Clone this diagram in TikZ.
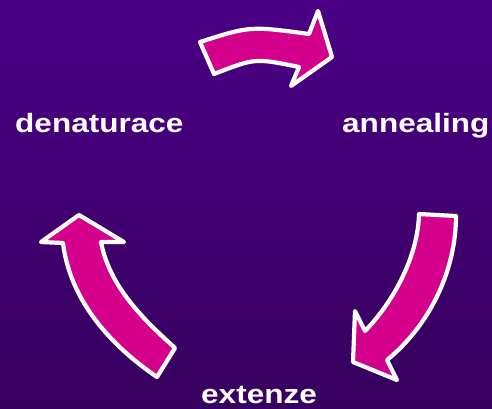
\documentclass[tikz,border=0pt]{standalone}
\usepackage{fontspec}
\setmainfont{Liberation Sans}
\usepackage{graphicx}
\definecolor{bgtop}{HTML}{4B0085}
\definecolor{bgbottom}{HTML}{37005F}
\definecolor{pcrpink}{HTML}{D4008C}
\tikzset{
  cyclearrow/.style={fill=pcrpink, draw=white, line width=4.2pt, line join=round},
  steplabel/.style={text=white, inner sep=0pt, font=\fontsize{26.5}{30}\selectfont\bfseries}
}
\begin{document}
\begin{tikzpicture}[x=1pt,y=-1pt]
            % background
            \shade[top color=bgtop, bottom color=bgbottom] (0,0) rectangle (492,408);
            \useasboundingbox (0,0) rectangle (492,408);

            % labels
            \node[steplabel, anchor=base west] (denat) at (15,132) {\scalebox{1.19}[1]{denaturace}};
            \node[steplabel, anchor=base west] (anneal) at (342,132) {\scalebox{1.19}[1]{annealing}};
            \node[steplabel, anchor=base west] (ext) at (201,403) {\scalebox{1.19}[1]{extenze}};

            % arrow denaturace -> annealing
            \draw[cyclearrow] (200,42) .. controls (250,26) .. (309,34) -- (318,11) -- (332,57)
                              -- (291,86) -- (299,67) .. controls (255,58) .. (214,74) -- cycle;
            % arrow annealing -> extenze
            \draw[cyclearrow] (419,214) -- (456,216) .. controls (456,270) and (430,325) .. (387,360)
                              -- (397,380) -- (353,362) -- (355,311) -- (365,331)
                              .. controls (395,300) and (418,255) .. cycle;
            % arrow extenze -> denaturace
            \draw[cyclearrow] (79,215) -- (124,242) -- (101,242) .. controls (110,290) and (150,325) .. (175,348)
                              -- (157,377) .. controls (110,345) and (70,300) .. (63,243)
                              -- (41,242) -- cycle;
          \end{tikzpicture}
\end{document}
